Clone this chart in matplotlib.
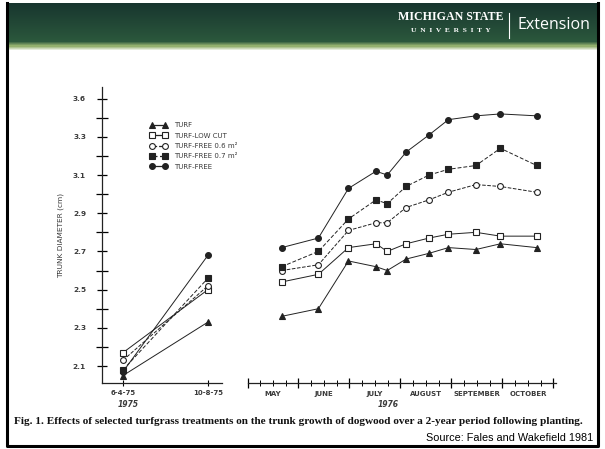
import numpy as np
import matplotlib
matplotlib.use("Agg")
import matplotlib.pyplot as plt

# --- data ---
series_names = ["TURF", "TURF-LOW CUT", "TURF-FREE 0.6 m\u00b2", "TURF-FREE 0.7 m\u00b2", "TURF-FREE"]

dates_1975 = ["6-4-75", "10-8-75"]
diam_1975_turf = [2.05, 2.33]
diam_1975_lowcut = [2.17, 2.50]
diam_1975_free06 = [2.13, 2.52]
diam_1975_free07 = [2.08, 2.56]
diam_1975_free = [2.07, 2.68]

months_1976 = ["MAY", "JUNE", "JULY", "AUGUST", "SEPTEMBER", "OCTOBER"]
# sampling dates as fractional months from 1 May 1976
sample_month = [0.67, 1.39, 1.98, 2.52, 2.74, 3.11, 3.56, 3.94, 4.48, 4.96, 5.67]
diam_1976_turf = [2.36, 2.40, 2.65, 2.62, 2.60, 2.66, 2.69, 2.72, 2.71, 2.74, 2.72]
diam_1976_lowcut = [2.54, 2.58, 2.72, 2.74, 2.70, 2.74, 2.77, 2.79, 2.80, 2.78, 2.78]
diam_1976_free06 = [2.60, 2.63, 2.81, 2.85, 2.85, 2.93, 2.97, 3.01, 3.05, 3.04, 3.01]
diam_1976_free07 = [2.62, 2.70, 2.87, 2.97, 2.95, 3.04, 3.10, 3.13, 3.15, 3.24, 3.15]
diam_1976_free = [2.72, 2.77, 3.03, 3.12, 3.10, 3.22, 3.31, 3.39, 3.41, 3.42, 3.41]

y_ticks = [3.5, 3.3, 3.1, 2.9, 2.7, 2.5, 2.3, 2.1]
y_tick_labels = ["3.6", "3.3", "3.1", "2.9", "2.7", "2.5", "2.3", "2.1"]

INK = "#222222"
TXT = "#3a3a3a"
styles = [
    dict(marker="^", mfc=INK, ls="-"),
    dict(marker="s", mfc="white", ls="-"),
    dict(marker="o", mfc="white", ls="--"),
    dict(marker="s", mfc=INK, ls=(0, (4, 2))),
    dict(marker="o", mfc=INK, ls="-"),
]

W, H = 605, 449
fig = plt.figure(figsize=(W / 100, H / 100), dpi=100)
fig.patch.set_facecolor("white")


def fx(px):
    return px / W


def fy(py):
    return 1 - py / H


# --- slide background: header band and frame ---
bg = fig.add_axes([0, 0, 1, 1], zorder=-5)
bg.set_xlim(0, W)
bg.set_ylim(H, 0)
bg.axis("off")

top = np.array([0x18, 0x36, 0x2f]) / 255
mid = np.array([0x2b, 0x57, 0x3c]) / 255
band = np.array([0x93, 0xb0, 0x6e]) / 255
white = np.ones(3)
rows = []
for i in range(48):
    if i < 38:
        t = i / 37
        c = top * (1 - t) + mid * t
    elif i < 43:
        t = (i - 38) / 4
        c = mid * (1 - t) + band * t
    else:
        t = (i - 43) / 4
        c = band * (1 - t) + white * t
    rows.append(c)
grad = np.array(rows)[:, None, :].repeat(2, axis=1)
bg.imshow(grad, extent=[7, 598, 51, 3], aspect="auto", interpolation="bilinear")
bg.plot([7, 7, 598, 598], [3, 446, 446, 3], color="black", lw=2.2)

bg.text(451, 17, "MICHIGAN STATE", color="white", fontsize=8.6, family="Liberation Serif",
        fontweight="bold", ha="center", va="center")
bg.text(451, 31, "U  N  I  V  E  R  S  I  T  Y", color="white", fontsize=5.4,
        family="Liberation Serif", fontweight="bold", ha="center", va="center")
bg.plot([509, 509], [13, 38], color="white", lw=0.8)
bg.text(554, 25, "Extension", color="white", fontsize=11.5, family="Open Sans",
        ha="center", va="center")

# --- left panel (1975) ---
yl = (2.011, 3.561)
ax1 = fig.add_axes([fx(102), fy(383), fx(120), fy(87) - fy(383)])
x1975 = np.arange(len(dates_1975))
left_data = [diam_1975_turf, diam_1975_lowcut, diam_1975_free06, diam_1975_free07, diam_1975_free]
for vals, st in zip(left_data, styles):
    ax1.plot(x1975, vals, color=INK, lw=0.7, ls=st["ls"], marker=st["marker"],
             ms=4.2, mfc=st["mfc"], mec=INK, mew=0.8)
ax1.set_xlim(-0.247, 1.165)
ax1.set_ylim(*yl)
ax1.set_xticks(x1975, dates_1975)
ax1.set_yticks(y_ticks, y_tick_labels)
ax1.set_yticks([3.4, 3.2, 3.0, 2.8, 2.6, 2.4, 2.2], minor=True)
for s in ["top", "right"]:
    ax1.spines[s].set_visible(False)
for s in ["left", "bottom"]:
    ax1.spines[s].set_linewidth(0.9)
    ax1.spines[s].set_color(INK)
ax1.tick_params(axis="y", which="major", direction="inout", length=7, width=0.9,
                labelsize=5.3, labelcolor=TXT, pad=8)
ax1.tick_params(axis="y", which="minor", direction="inout", length=8, width=0.9)
ax1.tick_params(axis="x", direction="inout", length=4, width=0.8, labelsize=5,
                labelcolor=TXT, pad=3)
ax1.set_ylabel("TRUNK DIAMETER (cm)", fontsize=5.3, color=TXT, labelpad=6)
ax1.text(0.22, -0.058, "1975", transform=ax1.transAxes, fontsize=5.5, style="italic",
         color=TXT, ha="center", va="top", fontweight="bold")

handles = []
for name, st in zip(series_names, styles):
    h, = ax1.plot([], [], color=INK, lw=0.9, ls=st["ls"], marker=st["marker"], ms=4.2,
                  mfc=st["mfc"], mec=INK, mew=0.8, label=name)
    handles.append(h)
fig.legend(handles=handles, loc="upper left", bbox_to_anchor=(fx(146), fy(119)),
           frameon=False, fontsize=5.0, numpoints=2, handlelength=2.6,
           handletextpad=0.9, labelspacing=0.62, labelcolor=TXT, borderpad=0)

# --- right panel (1976) ---
ax2 = fig.add_axes([fx(247.5), fy(383), fx(308.5), fy(87) - fy(383)])
right_data = [diam_1976_turf, diam_1976_lowcut, diam_1976_free06, diam_1976_free07, diam_1976_free]
for vals, st in zip(right_data, styles):
    ax2.plot(sample_month, vals, color=INK, lw=0.7, ls=st["ls"], marker=st["marker"],
             ms=4.2, mfc=st["mfc"], mec=INK, mew=0.8)
ax2.set_xlim(0, 6.05)
ax2.set_ylim(*yl)
ax2.set_yticks([])
for s in ["top", "right", "left"]:
    ax2.spines[s].set_visible(False)
ax2.spines["bottom"].set_linewidth(0.9)
ax2.spines["bottom"].set_color(INK)
ax2.set_xticks(np.arange(len(months_1976) + 1), [""] * (len(months_1976) + 1))
week_pos = [m + q for m in range(len(months_1976)) for q in (0.25, 0.5, 0.75)]
week_lab = [months_1976[int(p)] if abs(p % 1 - 0.5) < 1e-6 else "" for p in week_pos]
ax2.set_xticks(week_pos, week_lab, minor=True)
ax2.tick_params(axis="x", which="major", direction="inout", length=7, width=0.9)
ax2.tick_params(axis="x", which="minor", direction="inout", length=5, width=0.7,
                labelsize=5, labelcolor=TXT, pad=3)
for lab in ax2.get_xticklabels(minor=True):
    lab.set_fontweight("bold")
for lab in ax1.get_xticklabels() + ax1.get_yticklabels():
    lab.set_fontweight("bold")
ax2.text((388 - 247.5) / 308.5, -0.058, "1976", transform=ax2.transAxes, fontsize=5.5,
         style="italic", color=TXT, ha="center", va="top", fontweight="bold")

# --- caption and source ---
fig.text(fx(14), fy(421), "Fig. 1. Effects of selected turfgrass treatments on the trunk growth "
         "of dogwood over a 2-year period following planting.", fontsize=8.15,
         family="Liberation Serif", fontweight="bold", color="#111111", va="center", ha="left")
fig.text(fx(593), fy(438), "Source: Fales and Wakefield 1981", fontsize=7.8,
         family="Liberation Sans", color="black", va="center", ha="right")

fig.savefig("out.png", dpi=100, facecolor="white")
